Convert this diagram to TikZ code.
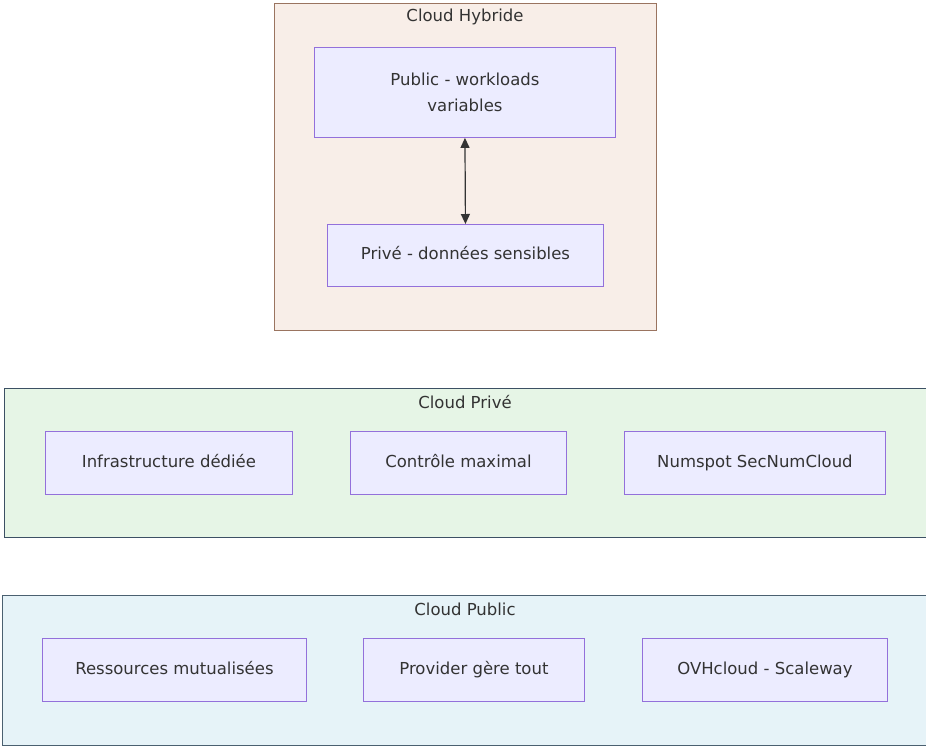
\documentclass[tikz,border=0pt]{standalone}
\usepackage{fontspec}
\setmainfont{DejaVu Sans}
\usepackage{xcolor}
\usetikzlibrary{positioning,arrows.meta}
\definecolor{nodefill}{HTML}{ECECFF}
\definecolor{nodeline}{HTML}{9370DB}
\definecolor{txt}{HTML}{333333}
\definecolor{hybfill}{HTML}{F8EEE8}
\definecolor{hybline}{HTML}{9A7460}
\definecolor{privfill}{HTML}{E6F5E6}
\definecolor{privline}{HTML}{3C5064}
\definecolor{pubfill}{HTML}{E6F3F8}
\definecolor{publine}{HTML}{4A6070}
\tikzset{
  item/.style={draw=nodeline, fill=nodefill, line width=0.9pt, align=center, text=txt,
               font=\fontsize{16.5}{26}\selectfont, inner sep=0pt, anchor=north west},
  solo/.style={item, text height=12pt, text depth=3.5pt},
  cluster/.style={draw=#1line, fill=#1fill, line width=0.9pt, inner sep=0pt, anchor=north west},
  ctitle/.style={text=txt, font=\fontsize{16.5}{18}\selectfont, inner sep=0pt},
  link/.style={{Triangle[length=10pt,width=9pt]}-{Triangle[length=10pt,width=9pt]}, line width=1.2pt, draw=txt},
}
\begin{document}
\begin{tikzpicture}[x=1pt, y=-1pt]
  \useasboundingbox (0,0) rectangle (926,745);
  % cloud hybride
  \node[cluster=hyb, minimum width=382pt, minimum height=327pt] (hyb) at (274,3) {};
  \node[ctitle] (hybT) at (465,17) {Cloud Hybride};
  \node[item, minimum width=301pt, minimum height=90pt] (hpub) at (314,47) {Public - workloads\\variables};
  \node[solo, minimum width=276pt, minimum height=62pt] (hpriv) at (327,224) {Privé - données sensibles};
  \draw[link] (hpub.south) -- (hpriv.north);
  % cloud privé
  \node[cluster=priv, minimum width=922pt, minimum height=149pt] (priv) at (4,388) {};
  \node[ctitle] (privT) at (465,402) {Cloud Privé};
  \node[solo, minimum width=247pt, minimum height=63pt] (infra) at (45,431) {Infrastructure dédiée};
  \node[solo, minimum width=216pt, minimum height=63pt] (ctrl) at (350,431) {Contrôle maximal};
  \node[solo, minimum width=261pt, minimum height=63pt] (nums) at (624,431) {Numspot SecNumCloud};
  % cloud public
  \node[cluster=pub, minimum width=924pt, minimum height=150pt] (pub) at (2,595) {};
  \node[ctitle] (pubT) at (465,609) {Cloud Public};
  \node[solo, minimum width=264pt, minimum height=63pt] (res) at (42,638) {Ressources mutualisées};
  \node[solo, minimum width=221pt, minimum height=63pt] (prov) at (363,638) {Provider gère tout};
  \node[solo, minimum width=245pt, minimum height=63pt] (ovh) at (642,638) {OVHcloud - Scaleway};
\end{tikzpicture}
\end{document}
